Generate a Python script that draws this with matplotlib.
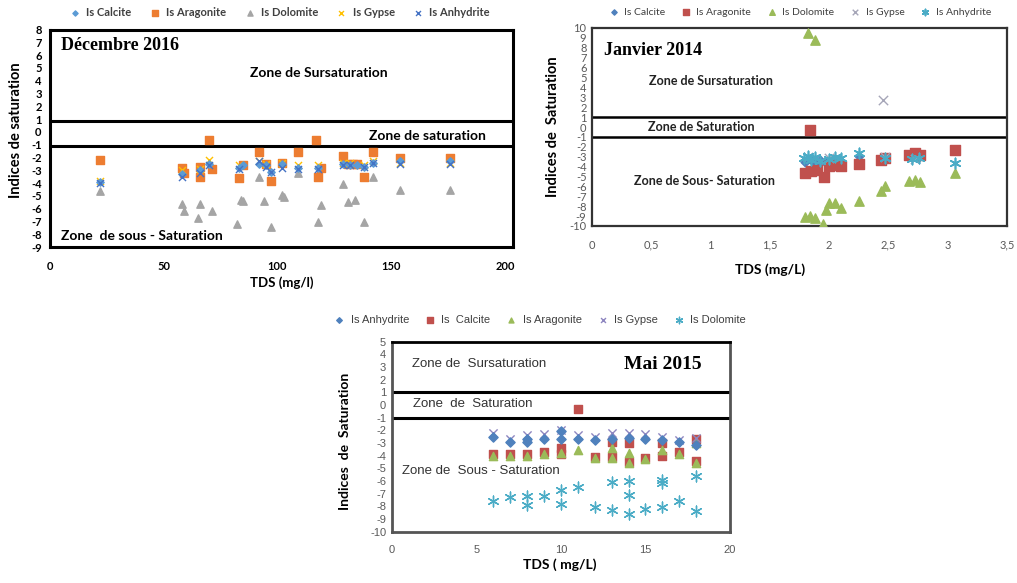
import matplotlib
matplotlib.use('Agg')
import matplotlib.pyplot as plt

plt.rcParams['axes.unicode_minus'] = False

# ---------------- Décembre 2016 ----------------
dec_calcite_x = [22, 58, 66, 70, 83, 85, 92, 95, 97, 102, 109, 118, 129, 132, 135, 138, 142, 154, 176]
dec_calcite_y = [-3.9, -3.3, -3.0, -2.5, -2.8, -2.6, -2.5, -2.6, -3.1, -2.5, -2.8, -2.8, -2.5, -2.6, -2.6, -2.7, -2.4, -2.3, -2.3]
dec_aragonite_x = [22, 58, 59, 66, 66, 70, 71, 83, 85, 92, 95, 97, 102, 109, 117, 118, 119, 129, 131, 133, 135, 138, 142, 154, 176]
dec_aragonite_y = [-2.2, -2.8, -3.2, -2.7, -3.5, -0.6, -2.9, -3.6, -2.6, -1.6, -2.5, -3.8, -2.4, -1.6, -0.6, -3.5, -2.8, -1.9, -2.5, -2.5, -2.5, -3.5, -1.6, -2.0, -2.0]
dec_dolomite_x = [22, 58, 59, 66, 65, 71, 82, 84, 85, 92, 94, 97, 102, 103, 109, 118, 119, 129, 131, 134, 138, 142, 154, 176]
dec_dolomite_y = [-4.6, -5.6, -6.2, -5.6, -6.7, -6.2, -7.2, -5.3, -5.4, -3.5, -5.4, -7.4, -4.9, -5.1, -3.2, -7.0, -5.7, -4.1, -5.5, -5.3, -7.0, -3.5, -4.5, -4.5]
dec_gypse_x = [22, 58, 66, 70, 83, 92, 95, 102, 109, 118, 129, 132, 138, 142, 154, 176]
dec_gypse_y = [-3.8, -3.0, -2.9, -2.2, -2.6, -2.3, -2.5, -2.4, -2.6, -2.6, -2.4, -2.4, -2.6, -2.3, -2.4, -2.4]
dec_anhydrite_x = [22, 58, 66, 70, 83, 92, 95, 97, 102, 109, 118, 129, 132, 138, 142, 154, 176]
dec_anhydrite_y = [-4.0, -3.5, -3.2, -2.6, -2.9, -2.3, -2.7, -3.1, -2.8, -2.9, -2.9, -2.6, -2.6, -2.7, -2.4, -2.5, -2.5]
dec_xticks = [0, 50, 100, 150, 200]
dec_yticks = list(range(-9, 9))

# ---------------- Janvier 2014 ----------------
jan_calcite_x = [1.80, 1.84, 1.88, 1.92, 1.97, 2.03, 2.08, 2.25, 2.46, 2.70, 2.75]
jan_calcite_y = [-3.5, -3.2, -3.6, -3.3, -3.6, -3.2, -3.3, -2.9, -3.2, -3.0, -3.1]
jan_aragonite_x = [1.80, 1.85, 1.90, 1.96, 2.00, 2.05, 2.10, 2.25, 2.44, 2.47, 2.67, 2.72, 2.77, 3.06, 1.84]
jan_aragonite_y = [-4.6, -4.4, -4.3, -5.0, -3.9, -3.8, -3.9, -3.7, -3.3, -3.1, -2.8, -2.6, -2.8, -2.3, -0.35]
jan_dolomite_x = [1.82, 1.88, 1.80, 1.84, 1.88, 1.95, 1.97, 2.00, 2.05, 2.10, 2.25, 2.44, 2.47, 2.67, 2.72, 2.77, 3.06]
jan_dolomite_y = [9.5, 8.8, -9.1, -9.0, -9.2, -9.8, -8.4, -7.7, -7.7, -8.2, -7.5, -6.5, -6.0, -5.5, -5.4, -5.6, -4.6]
jan_gypse_x = [2.45, 1.82, 2.0, 2.47, 2.72]
jan_gypse_y = [2.7, -3.0, -3.1, -3.0, -3.2]
jan_anhydrite_x = [1.79, 1.82, 1.85, 1.88, 1.92, 2.00, 2.05, 2.10, 2.25, 2.47, 2.70, 2.76, 3.06]
jan_anhydrite_y = [-3.1, -2.9, -3.3, -3.0, -3.4, -3.2, -3.0, -3.1, -2.6, -3.1, -3.2, -3.1, -3.6]
jan_xticks = [0, 0.5, 1, 1.5, 2, 2.5, 3, 3.5]
jan_xticklabels = ['0', '0,5', '1', '1,5', '2', '2,5', '3', '3,5']
jan_yticks = list(range(-10, 11))

# ---------------- Mai 2015 ----------------
mai_anhydrite_x = [6, 7, 8, 8, 9, 10, 10, 11, 12, 13, 14, 15, 16, 17, 18]
mai_anhydrite_y = [-2.5, -2.9, -2.7, -2.9, -2.7, -2.1, -2.7, -2.7, -2.8, -2.7, -2.6, -2.7, -2.8, -2.9, -3.2]
mai_calcite_x = [6, 7, 8, 9, 10, 10, 11, 12, 13, 13, 14, 14, 15, 16, 16, 17, 18, 18]
mai_calcite_y = [-3.9, -3.9, -3.9, -3.7, -3.4, -3.9, -0.3, -4.1, -2.9, -4.1, -3.0, -4.5, -4.2, -3.0, -4.0, -3.7, -2.7, -4.4]
mai_aragonite_x = [6, 7, 8, 9, 10, 11, 12, 13, 13, 14, 14, 15, 16, 17, 18, 18]
mai_aragonite_y = [-4.0, -4.0, -4.0, -3.9, -3.8, -3.6, -4.2, -3.4, -4.2, -3.8, -4.6, -4.3, -3.6, -3.9, -3.0, -4.6]
mai_gypse_x = [6, 7, 8, 9, 10, 11, 12, 13, 14, 15, 16, 17, 18]
mai_gypse_y = [-2.2, -2.7, -2.4, -2.3, -2.0, -2.4, -2.5, -2.2, -2.2, -2.3, -2.5, -2.8, -2.6]
mai_dolomite_x = [6, 7, 8, 8, 9, 10, 10, 11, 12, 13, 13, 14, 14, 14, 15, 16, 16, 16, 17, 18, 18]
mai_dolomite_y = [-7.6, -7.3, -7.2, -7.9, -7.2, -6.7, -7.8, -6.5, -8.1, -6.1, -8.3, -6.0, -7.1, -8.6, -8.2, -5.9, -6.2, -8.1, -7.6, -5.6, -8.4]
mai_xticks = [0, 5, 10, 15, 20]
mai_yticks = list(range(-10, 6))

W, H = 1017, 583
fig = plt.figure(figsize=(W / 100, H / 100), dpi=100)

SANS = ['Lato', 'DejaVu Sans']
ARIAL = ['Liberation Sans', 'DejaVu Sans']
SERIF = ['Liberation Serif', 'DejaVu Serif']
ASTER = (6, 2, 0)


def px_axes(l, t, r, b):
    return fig.add_axes([l / W, 1 - b / H, (r - l) / W, (b - t) / H])


# ===== Axes 1: Décembre 2016 =====
ax1 = px_axes(50, 29.6, 513, 247.2)
ax1.set_xlim(0, 203.5)
ax1.set_ylim(-9, 8)
h = []
h.append(ax1.scatter(dec_calcite_x, dec_calcite_y, marker='D', s=14, color='#5B9BD5', label='Is Calcite', zorder=4))
h.append(ax1.scatter(dec_aragonite_x, dec_aragonite_y, marker='s', s=30, color='#ED7D31', label='Is Aragonite', zorder=3))
h.append(ax1.scatter(dec_dolomite_x, dec_dolomite_y, marker='^', s=28, color='#A5A5A5', label='Is Dolomite', zorder=3))
h.append(ax1.scatter(dec_gypse_x, dec_gypse_y, marker='x', s=26, color='#FFC000', linewidths=1.0, label='Is Gypse', zorder=3))
h.append(ax1.scatter(dec_anhydrite_x, dec_anhydrite_y, marker='x', s=26, color='#4472C4', linewidths=1.0, label='Is Anhydrite', zorder=5))
ax1.axhline(0.85, color='black', lw=2.2, zorder=2)
ax1.axhline(-1.1, color='black', lw=2.2, zorder=2)
for s in ax1.spines.values():
    s.set_linewidth(2.2)
    s.set_color('black')
ax1.set_xticks(dec_xticks)
ax1.set_yticks(dec_yticks)
ax1.tick_params(length=0, labelsize=8, pad=6)
for lab in ax1.get_xticklabels() + ax1.get_yticklabels():
    lab.set_fontweight('bold')
    lab.set_family(SANS)
ax1.tick_params(axis='x', pad=10)
ax1.text(5, 6.4, 'Décembre 2016', family=SERIF, fontweight='bold', fontsize=13)
ax1.text(118, 4.6, 'Zone de Sursaturation', family=SANS, fontweight='bold', fontsize=10, ha='center', va='center')
ax1.text(166, -0.3, 'Zone de saturation', family=SANS, fontweight='bold', fontsize=10, ha='center', va='center')
ax1.text(5, -8.1, 'Zone  de sous - Saturation', family=SANS, fontweight='bold', fontsize=10, ha='left', va='center')
fig.text(16 / W, 1 - 130 / H, 'Indices de saturation', rotation=90, family=SANS, fontweight='bold',
         fontsize=10.5, ha='center', va='center')
fig.text(282 / W, 1 - 283 / H, 'TDS (mg/l)', family=SANS, fontweight='bold', fontsize=9.5, ha='center', va='center')
fig.legend(handles=h, loc='center', bbox_to_anchor=(277 / W, 1 - 12 / H), ncol=5, frameon=False,
           prop={'family': SANS, 'weight': 'bold', 'size': 8}, handletextpad=0.0, columnspacing=1.1,
           markerscale=0.7, labelcolor='#404040')

# ===== Axes 2: Janvier 2014 =====
ax2 = px_axes(592, 28, 1007, 226)
ax2.set_xlim(0, 3.5)
ax2.set_ylim(-10, 10)
h = []
h.append(ax2.scatter(jan_calcite_x, jan_calcite_y, marker='D', s=20, color='#4F81BD', label='Is Calcite', zorder=3))
h.append(ax2.scatter(jan_aragonite_x, jan_aragonite_y, marker='s', s=45, color='#C0504D', label='Is Aragonite', zorder=3))
h.append(ax2.scatter(jan_dolomite_x, jan_dolomite_y, marker='^', s=45, color='#9BBB59', label='Is Dolomite', zorder=3))
h.append(ax2.scatter(jan_gypse_x, jan_gypse_y, marker='x', s=45, color='#A6A6B8', linewidths=1.0, label='Is Gypse', zorder=3))
h.append(ax2.scatter(jan_anhydrite_x, jan_anhydrite_y, marker=ASTER, s=55, color='#4BACC6', linewidths=1.2, label='Is Anhydrite', zorder=4))
ax2.axhline(1.0, color='black', lw=1.8, zorder=2)
ax2.axhline(-1.0, color='black', lw=1.8, zorder=2)
for s in ax2.spines.values():
    s.set_linewidth(1.6)
    s.set_color('#333333')
ax2.set_xticks(jan_xticks)
ax2.set_xticklabels(jan_xticklabels)
ax2.set_yticks(jan_yticks)
ax2.tick_params(length=0, labelsize=8, labelcolor='#595959')
ax2.tick_params(axis='x', pad=10)
ax2.tick_params(axis='y', pad=4)
for lab in ax2.get_xticklabels() + ax2.get_yticklabels():
    lab.set_family(SANS)
ax2.text(0.1, 7.3, 'Janvier 2014', family=SERIF, fontweight='bold', fontsize=13)
ax2.text(1.0, 4.6, 'Zone de Sursaturation', family=SANS, fontweight='bold', fontsize=9, ha='center', va='center', color='#222222')
ax2.text(0.92, 0.0, 'Zone de Saturation', family=SANS, fontweight='bold', fontsize=9, ha='center', va='center', color='#222222')
ax2.text(0.95, -5.5, 'Zone de Sous- Saturation', family=SANS, fontweight='bold', fontsize=9, ha='center', va='center', color='#222222')
fig.text(553 / W, 1 - 127 / H, 'Indices de  Saturation', rotation=90, family=SANS, fontweight='bold',
         fontsize=10.5, ha='center', va='center')
fig.text(770 / W, 1 - 270 / H, 'TDS (mg/L)', family=SANS, fontweight='bold', fontsize=10, ha='center', va='center')
fig.legend(handles=h, loc='center', bbox_to_anchor=(797 / W, 1 - 12 / H), ncol=5, frameon=False,
           prop={'family': SANS, 'size': 7.5}, handletextpad=0.0, columnspacing=1.0,
           markerscale=0.6, labelcolor='#404040')

# ===== Axes 3: Mai 2015 =====
ax3 = px_axes(391.7, 341.5, 730, 531.5)
ax3.set_xlim(0, 20)
ax3.set_ylim(-10, 5)
h = []
h.append(ax3.scatter(mai_anhydrite_x, mai_anhydrite_y, marker='D', s=22, color='#4F81BD', label='Is Anhydrite', zorder=4))
h.append(ax3.scatter(mai_calcite_x, mai_calcite_y, marker='s', s=40, color='#C0504D', label='Is  Calcite', zorder=3))
h.append(ax3.scatter(mai_aragonite_x, mai_aragonite_y, marker='^', s=35, color='#9BBB59', label='Is Aragonite', zorder=3))
h.append(ax3.scatter(mai_gypse_x, mai_gypse_y, marker='x', s=35, color='#8E86C0', linewidths=1.0, label='Is Gypse', zorder=3))
h.append(ax3.scatter(mai_dolomite_x, mai_dolomite_y, marker=ASTER, s=60, color='#4BACC6', linewidths=1.0, label='Is Dolomite', zorder=3))
ax3.axhline(1.0, color='black', lw=2.2, zorder=2)
ax3.axhline(-1.0, color='black', lw=2.2, zorder=2)
for s in ax3.spines.values():
    s.set_linewidth(2.0)
    s.set_color('#555555')
ax3.spines['top'].set_color('black')
ax3.set_xticks(mai_xticks)
ax3.set_yticks(mai_yticks)
ax3.tick_params(length=0, labelsize=8, labelcolor='#595959')
ax3.tick_params(axis='x', pad=10)
ax3.tick_params(axis='y', pad=4)
for lab in ax3.get_xticklabels() + ax3.get_yticklabels():
    lab.set_family(ARIAL)
ax3.text(1.2, 3.2, 'Zone de  Sursaturation', family=ARIAL, fontsize=9.5, ha='left', va='center', color='#333333')
ax3.text(16.0, 3.2, 'Mai 2015', family=SERIF, fontweight='bold', fontsize=14, ha='center', va='center')
ax3.text(1.25, 0.05, 'Zone  de  Saturation', family=ARIAL, fontsize=9.5, ha='left', va='center', color='#333333')
ax3.text(0.6, -5.25, 'Zone de  Sous - Saturation', family=ARIAL, fontsize=9.5, ha='left', va='center', color='#333333')
fig.text(345 / W, 1 - 441 / H, 'Indices  de  Saturation', rotation=90, family=SANS, fontweight='bold',
         fontsize=10, ha='center', va='center')
fig.text(560 / W, 1 - 565 / H, 'TDS ( mg/L)', family=SANS, fontweight='bold', fontsize=10, ha='center', va='center')
fig.legend(handles=h, loc='center', bbox_to_anchor=(537 / W, 1 - 320 / H), ncol=5, frameon=False,
           prop={'family': ARIAL, 'size': 8}, handletextpad=0.0, columnspacing=0.9,
           markerscale=0.6, labelcolor='#404040')

fig.savefig('out.png', dpi=100, facecolor='white')
